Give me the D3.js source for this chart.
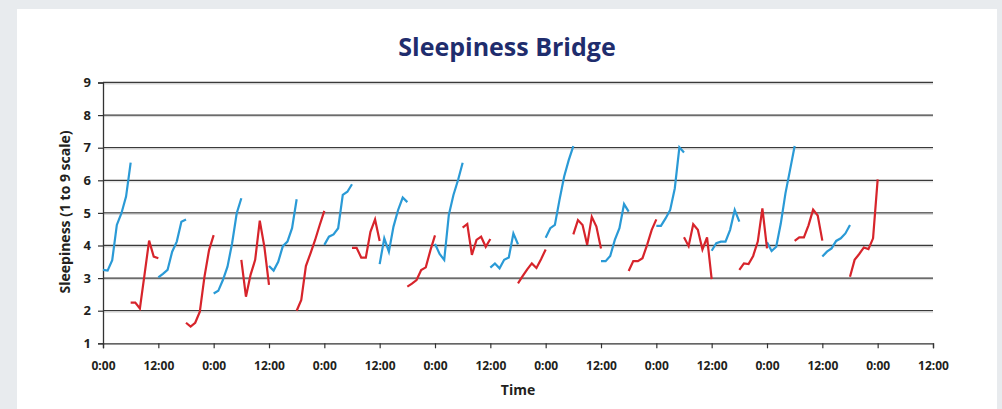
<!DOCTYPE html>
<html><head><meta charset="utf-8">
<script src="https://cdn.jsdelivr.net/npm/d3@7"></script>
<style>html,body{margin:0;padding:0;background:#e8ebee;}svg{display:block;}</style>
</head><body>
<script>
// Data: each segment is hourly readings starting at the given hour
const blueStarts = [0,12,24,36,48,60,72,84,96,108,120,132,144,156];
const blueValues = [
  [3.25,3.23,3.55,4.63,4.99,5.50,6.54],
  [3.02,3.13,3.25,3.81,4.12,4.73,4.80],
  [2.53,2.61,2.94,3.35,4.07,4.99,5.45],
  [3.37,3.23,3.50,3.98,4.12,4.53,5.42],
  [4.02,4.27,4.34,4.53,5.55,5.65,5.88],
  [3.43,4.22,3.81,4.58,5.09,5.47,5.33],
  [4.05,3.74,3.56,4.94,5.55,6.01,6.54],
  [3.32,3.45,3.30,3.56,3.63,4.37,4.04],
  [4.24,4.53,4.63,5.40,6.11,6.62,7.05],
  [3.52,3.52,3.68,4.17,4.53,5.27,5.04],
  [4.60,4.60,4.83,5.09,5.75,7.01,6.85],
  [3.84,4.07,4.12,4.12,4.48,5.09,4.73],
  [4.10,3.83,3.96,4.68,5.60,6.32,7.05],
  [3.66,3.81,3.91,4.14,4.22,4.37,4.63]
];
const redStarts = [6,18,30,42,54,66,78,90,102,114,126,138,150,162];
const redValues = [
  [2.25,2.25,2.07,3.10,4.15,3.66,3.61],
  [1.63,1.51,1.63,1.97,3.04,3.86,4.32],
  [3.56,2.43,3.10,3.56,4.76,3.96,2.79],
  [2.00,2.33,3.37,3.76,4.17,4.63,5.06],
  [3.93,3.93,3.63,3.63,4.42,4.80,4.14],
  [2.74,2.83,2.94,3.25,3.33,3.85,4.31],
  [4.55,4.66,3.71,4.17,4.27,3.96,4.20],
  [2.84,3.06,3.27,3.45,3.31,3.58,3.88],
  [4.34,4.78,4.63,4.02,4.88,4.58,3.91],
  [3.22,3.52,3.52,3.61,4.02,4.48,4.80],
  [4.25,3.98,4.65,4.48,3.88,4.25,2.97],
  [3.25,3.45,3.43,3.68,4.12,5.14,3.91],
  [4.14,4.25,4.25,4.62,5.10,4.92,4.15],
  [3.04,3.56,3.74,3.94,3.89,4.22,6.03]
];
const xTickHours = [0,12,24,36,48,60,72,84,96,108,120,132,144,156,168,180];
const xTickLabels = ["0:00","12:00","0:00","12:00","0:00","12:00","0:00","12:00","0:00","12:00","0:00","12:00","0:00","12:00","0:00","12:00"];
const yTicks = [1,2,3,4,5,6,7,8,9];

const W = 1002, H = 409;
const svg = d3.select("body").append("svg").attr("width", W).attr("height", H);
svg.append("rect").attr("x",0).attr("y",0).attr("width",W).attr("height",H).attr("fill","#e8ebee");
svg.append("rect").attr("x",17).attr("y",9).attr("width",980).attr("height",H-9).attr("fill","#ffffff");

const x = d3.scaleLinear().domain([0,180]).range([103,933]);
const y = d3.scaleLinear().domain([1,9]).range([343.3,82.5]);

// gridlines
svg.append("g").selectAll("line").data(yTicks.filter(d=>d>1)).join("line")
  .attr("x1",x(0)).attr("x2",x(180)).attr("y1",d=>y(d)).attr("y2",d=>y(d))
  .attr("stroke","#3a3a3a").attr("stroke-width",1.3);
svg.append("g").selectAll("line").data(yTicks.filter(d=>d>1)).join("line")
  .attr("x1",x(0)).attr("x2",x(180)).attr("y1",d=>y(d)+1.5).attr("y2",d=>y(d)+1.5)
  .attr("stroke","#d8d8d8").attr("stroke-width",1);

// axes
const yAxis = d3.axisLeft(y).tickValues(yTicks).tickSize(5).tickPadding(7).tickFormat(d3.format("d"));
const gy = svg.append("g").attr("transform",`translate(${x(0)},0)`).call(yAxis);
gy.select(".domain").attr("stroke","#333").attr("stroke-width",1.3);
gy.selectAll(".tick line").attr("stroke","#333").attr("stroke-width",1.2);
gy.selectAll("text").attr("font-family","'Open Sans', sans-serif").attr("font-weight","700")
  .attr("font-size","13px").attr("fill","#231f20");

const xAxis = d3.axisBottom(x).tickValues(xTickHours).tickSize(5).tickPadding(13)
  .tickFormat((d,i)=>xTickLabels[i]);
const gx = svg.append("g").attr("transform",`translate(0,${y(1)})`).call(xAxis);
gx.select(".domain").attr("stroke","#333").attr("stroke-width",1.3);
gx.selectAll(".tick line").attr("stroke","#333").attr("stroke-width",1.2);
gx.selectAll("text").attr("font-family","'Open Sans', sans-serif").attr("font-weight","700")
  .attr("font-size","12px").attr("fill","#231f20");

// lines
const line = d3.line().x(d=>x(d[0])).y(d=>y(d[1]));
function segs(starts, values){ return starts.map((s,i)=>values[i].map((v,j)=>[s+j,v])); }
svg.append("g").selectAll("path").data(segs(blueStarts,blueValues)).join("path")
  .attr("d",line).attr("fill","none").attr("stroke","#2a9ad6").attr("stroke-width",2.2)
  .attr("stroke-linejoin","miter");
svg.append("g").selectAll("path").data(segs(redStarts,redValues)).join("path")
  .attr("d",line).attr("fill","none").attr("stroke","#d7242b").attr("stroke-width",2.2)
  .attr("stroke-linejoin","miter");

// titles
svg.append("text").attr("x",507).attr("y",56).attr("text-anchor","middle")
  .attr("font-family","'Open Sans', sans-serif").attr("font-weight","700").attr("font-size","25px")
  .attr("fill","#1f2d6d").text("Sleepiness Bridge");
svg.append("text").attr("x",518).attr("y",395).attr("text-anchor","middle")
  .attr("font-family","'Open Sans', sans-serif").attr("font-weight","700").attr("font-size","14px")
  .attr("fill","#231f20").text("Time");
svg.append("text").attr("transform","translate(70,212) rotate(-90)").attr("text-anchor","middle")
  .attr("font-family","'Open Sans', sans-serif").attr("font-weight","700").attr("font-size","14px")
  .attr("fill","#231f20").text("Sleepiness (1 to 9 scale)");
</script>
</body></html>
